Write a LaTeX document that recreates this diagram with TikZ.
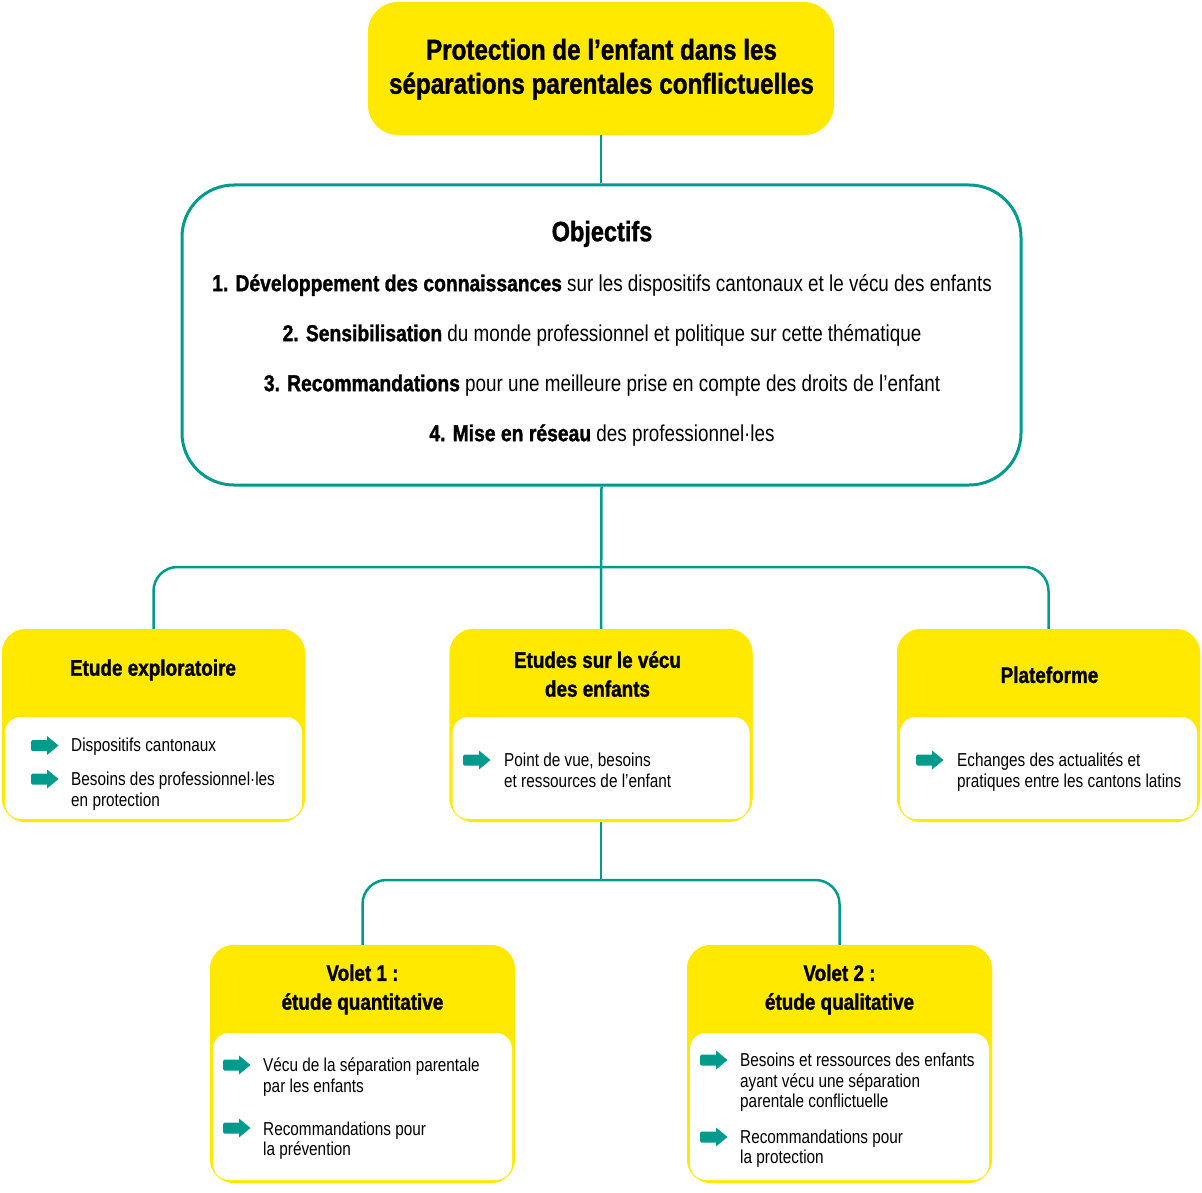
\documentclass[tikz,border=0pt]{standalone}
\usepackage{fontspec}
\setmainfont{Liberation Sans}[FakeStretch=0.82,BoldFeatures={FakeStretch=0.84,FakeBold=1.3}]
\definecolor{yel}{RGB}{255,233,0}
\definecolor{tealc}{RGB}{0,155,140}
\newcommand\Ls{\rule{0pt}{1.1em}}
\tikzset{
  link/.style={draw=tealc,line width=2.5pt,rounded corners=24pt},
  ybox/.style={fill=yel,rounded corners=24pt,inner sep=0pt,minimum width=303pt,minimum height=193pt},
  vbox/.style={fill=yel,rounded corners=24pt,inner sep=0pt,minimum width=305pt,minimum height=238pt},
  wbox/.style={fill=white,rounded corners=16pt,inner sep=0pt,minimum width=297pt},
  bigttl/.style={inner sep=0pt,align=center,anchor=north,font=\bfseries\fontsize{28.8}{34}\selectfont},
  objttl/.style={inner sep=0pt,align=center,anchor=north,font=\bfseries\fontsize{28}{34}\selectfont},
  objtxt/.style={inner sep=0pt,align=center,anchor=north,font=\fontsize{23}{50}\selectfont},
  boxttl/.style={inner sep=0pt,align=center,anchor=north,font=\bfseries\fontsize{22.5}{28.8}\selectfont},
  itm/.style={inner sep=0pt,align=left,anchor=north west,font=\fontsize{18.7}{20.5}\selectfont},
  arr/.pic={\fill[tealc,rounded corners=1.5pt] (0,-5.5) rectangle (17,5.5);
            \fill[tealc] (16,-9.5) -- (27.5,0) -- (16,9.5) -- cycle;}
}
\begin{document}
\begin{tikzpicture}[x=1pt,y=-1pt]
\useasboundingbox (0,0) rectangle (1202,1193);
% top title
\node[fill=yel,rounded corners=30pt,minimum width=466pt,minimum height=133pt,inner sep=0pt] (title) at (601,68.5) {};
\node[bigttl] (titletxt) at (601.5,27.8) {\Ls Protection de l’enfant dans les\\séparations parentales conflictuelles};
% objectives box
\node[draw=tealc,line width=3pt,rounded corners=52pt,minimum width=839pt,minimum height=300pt,inner sep=0pt] (obj) at (601.5,335) {};
\node[objttl] (objhead) at (602,210.2) {\Ls Objectifs};
\node[objtxt] (objlist) at (602,265.7) {\Ls\textbf{1. Développement des connaissances} sur les dispositifs cantonaux et le vécu des enfants\\
\textbf{2. Sensibilisation} du monde professionnel et politique sur cette thématique\\
\textbf{3. Recommandations} pour une meilleure prise en compte des droits de l’enfant\\
\textbf{4. Mise en réseau} des professionnel·les};
% connectors level 1
\coordinate (j1) at (601,567);
\coordinate (j2) at (601,880);
\draw[link] (title.south) -- (title.south |- obj.north);
% boxes
\path (153.5,725.5) coordinate (b1c) (601,725.5) coordinate (b2c) (1048.5,725.5) coordinate (b3c);
\path (362.5,1064) coordinate (v1c) (839.5,1064) coordinate (v2c);
\node[ybox] (b1) at (b1c) {};
\node[ybox] (b2) at (b2c) {};
\node[ybox] (b3) at (b3c) {};
\node[vbox] (v1) at (v1c) {};
\node[vbox] (v2) at (v2c) {};
\draw[link] (obj.south) -- (b2.north);
\draw[link] (b1.north) |- (j1) -| (b3.north);
\draw[link] (b2.south) -- (j2);
\draw[link] (v1.north) |- (j2) -| (v2.north);
% redraw boxes over line ends
\node[ybox] at (b1c) {};
\node[ybox] at (b2c) {};
\node[ybox] at (b3c) {};
\node[vbox] at (v1c) {};
\node[vbox] at (v2c) {};
% white inner panels
\node[wbox,minimum height=102pt] (w1) at (153.5,768) {};
\node[wbox,minimum height=102pt] (w2) at (601,768) {};
\node[wbox,minimum height=102pt] (w3) at (1048.5,768) {};
\node[wbox,minimum width=299pt,minimum height=147pt] (w4) at (362.5,1106.5) {};
\node[wbox,minimum width=299pt,minimum height=147pt] (w5) at (839.5,1106.5) {};
% box titles
\node[boxttl] (t1) at (153,650.75) {\Ls Etude exploratoire};
\node[boxttl] (t2) at (597.5,642.9) {\Ls Etudes sur le vécu\\des enfants};
\node[boxttl] (t3) at (1049.5,657.95) {\Ls Plateforme};
\node[boxttl] (t4) at (362.5,955.95) {\Ls Volet 1 :\\étude quantitative};
\node[boxttl] (t5) at (839.5,955.95) {\Ls Volet 2 :\\étude qualitative};
% items
\pic (a1) at (31,745.5) {arr};
\node[itm] (i1) at (71,731.1) {\Ls Dispositifs cantonaux};
\pic (a2) at (31,779) {arr};
\node[itm] (i2) at (71,765.1) {\Ls Besoins des professionnel·les\\en protection};
\pic (a3) at (463,760) {arr};
\node[itm] (i3) at (504,746.1) {\Ls Point de vue, besoins\\et ressources de l’enfant};
\pic (a4) at (916,760) {arr};
\node[itm] (i4) at (957,746.1) {\Ls Echanges des actualités et\\pratiques entre les cantons latins};
\pic (a5) at (223,1065) {arr};
\node[itm] (i5) at (263,1051.1) {\Ls Vécu de la séparation parentale\\par les enfants};
\pic (a6) at (223,1128) {arr};
\node[itm] (i6) at (263,1114.4) {\Ls Recommandations pour\\la prévention};
\pic (a7) at (700,1060) {arr};
\node[itm] (i7) at (740,1046.1) {\Ls Besoins et ressources des enfants\\ayant vécu une séparation\\parentale conflictuelle};
\pic (a8) at (700,1137) {arr};
\node[itm] (i8) at (740,1122.7) {\Ls Recommandations pour\\la protection};
\end{tikzpicture}
\end{document}
